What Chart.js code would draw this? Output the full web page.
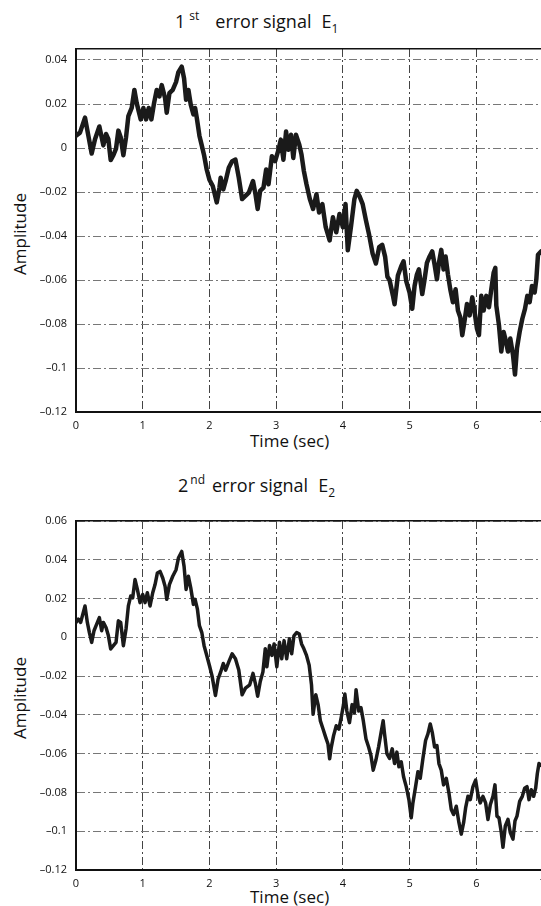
<!DOCTYPE html>
<html>
<head>
<meta charset="utf-8">
<script src="https://cdn.jsdelivr.net/npm/chart.js@4/dist/chart.umd.min.js"></script>
<style>
  html, body { margin: 0; padding: 0; background: #fff; overflow: hidden; }
  body { width: 541px; height: 906px; position: relative; font-family: "Open Sans", sans-serif; color: #111; }
  .txt { position: absolute; font-size: 17px; line-height: 20px; white-space: nowrap; }
  .ttl { font-size: 18px; }
  .sup { font-size: 12px; position: relative; top: -8px; }
  .sub { font-size: 12px; position: relative; top: 5px; }
  .ylab { position: absolute; font-size: 17px; line-height: 20px; white-space: nowrap; transform: translate(-50%, -50%) rotate(-90deg); }
  canvas { position: absolute; left: 0; }
</style>
</head>
<body>
<div class="txt ttl" style="left:175px; top:11px;">1<span class="sup" style="margin-left:4px">st</span><span style="margin-left:16px">error signal</span><span style="margin-left:10px">E</span><span class="sub">1</span></div>
<div class="ylab" style="left:19.5px; top:234px;">Amplitude</div>
<div class="txt" style="left:250px; top:431px;">Time (sec)</div>

<div class="txt ttl" style="left:178px; top:475px;">2<span class="sup" style="margin-left:2px">nd</span><span style="margin-left:7px">error signal</span><span style="margin-left:10px">E</span><span class="sub">2</span></div>
<div class="ylab" style="left:19.5px; top:698px;">Amplitude</div>
<div class="txt" style="left:250px; top:887px;">Time (sec)</div>

<canvas id="chart1" width="560" height="440" style="top:0px"></canvas>
<canvas id="chart2" width="560" height="430" style="top:470px"></canvas>

<script>
// 1st error signal E1
const time1 = [0, 0.06, 0.135, 0.185, 0.235, 0.285, 0.35, 0.41, 0.45, 0.485, 0.52, 0.56, 0.6, 0.635, 0.67, 0.71, 0.75, 0.785, 0.835, 0.875, 0.91, 0.97,
  1.01, 1.05, 1.09, 1.13, 1.17, 1.21, 1.25, 1.285, 1.335, 1.36, 1.4, 1.45, 1.5, 1.535, 1.585, 1.62, 1.65, 1.685, 1.72, 1.76, 1.785, 1.81, 1.85, 1.885, 1.92, 1.96,
  2.0, 2.05, 2.11, 2.15, 2.168, 2.208, 2.243, 2.29, 2.34, 2.39, 2.44, 2.49, 2.54, 2.59, 2.653, 2.69, 2.723, 2.76, 2.81, 2.85, 2.886, 2.936, 2.985,
  3.035, 3.07, 3.109, 3.149, 3.183, 3.223, 3.257, 3.297, 3.347, 3.38, 3.416, 3.455, 3.505, 3.554, 3.604, 3.644, 3.693, 3.743, 3.802, 3.851, 3.901, 3.95,
  4.0, 4.04, 4.074, 4.124, 4.173, 4.208, 4.248, 4.297, 4.347, 4.396, 4.446, 4.495, 4.545, 4.59, 4.634, 4.668, 4.7, 4.75, 4.775, 4.825, 4.875, 4.91, 4.95,
  5.0, 5.04, 5.075, 5.11, 5.14, 5.19, 5.225, 5.26, 5.3, 5.34, 5.375, 5.41, 5.44, 5.475, 5.51, 5.54, 5.575, 5.61, 5.65, 5.69, 5.725, 5.76, 5.79, 5.825, 5.86, 5.9, 5.94, 5.975,
  6.01, 6.04, 6.075, 6.11, 6.15, 6.19, 6.225, 6.26, 6.285, 6.3, 6.34, 6.375, 6.41, 6.44, 6.475, 6.51, 6.55, 6.58, 6.61, 6.65, 6.69, 6.73, 6.765, 6.8, 6.835, 6.875, 6.9, 6.925, 6.97];
const e1 = [0.0056, 0.007, 0.0138, 0.0056, -0.0025, 0.004, 0.0098, 0.0012, 0.0064, 0.004, -0.0055, -0.0033, -0.0003, 0.0079, 0.0049, -0.0033, 0.0049, 0.0145, 0.0182, 0.0264, 0.0204, 0.013,
  0.0182, 0.013, 0.0182, 0.013, 0.0204, 0.0264, 0.0234, 0.0286, 0.0227, 0.016, 0.0249, 0.0264, 0.03, 0.0345, 0.037, 0.0316, 0.0219, 0.0264, 0.0197, 0.0153, 0.0182, 0.0138, 0.0056, 0.0012, -0.0033, -0.0099,
  -0.0144, -0.0173, -0.0247, -0.0181, -0.0135, -0.0188, -0.015, -0.009, -0.006, -0.0053, -0.0135, -0.0232, -0.0218, -0.0203, -0.015, -0.021, -0.0277, -0.0195, -0.018, -0.0098, -0.0165, -0.0037, -0.006,
  -0.0008, 0.0038, -0.0053, 0.0075, -0.0008, 0.006, -0.0045, 0.006, 0.0015, -0.003, -0.0105, -0.0165, -0.0232, -0.0277, -0.021, -0.0293, -0.0255, -0.036, -0.042, -0.0315, -0.0383, -0.03,
  -0.036, -0.0255, -0.0465, -0.0352, -0.0232, -0.0195, -0.0218, -0.0255, -0.033, -0.0398, -0.048, -0.0525, -0.045, -0.044, -0.0495, -0.0585, -0.06, -0.067, -0.071, -0.058, -0.0537, -0.0515, -0.0605,
  -0.0657, -0.0731, -0.0627, -0.0575, -0.0552, -0.0664, -0.0597, -0.0522, -0.0493, -0.047, -0.053, -0.0597, -0.0522, -0.0463, -0.0552, -0.0493, -0.0575, -0.0642, -0.0701, -0.0642, -0.0739, -0.0769, -0.0851, -0.0784, -0.0709, -0.0761, -0.0679, -0.0746,
  -0.0821, -0.0851, -0.0672, -0.0739, -0.0672, -0.0724, -0.0642, -0.0567, -0.0545, -0.0716, -0.0806, -0.0925, -0.0836, -0.0873, -0.0925, -0.0866, -0.094, -0.103, -0.091, -0.0836, -0.0776, -0.0731, -0.0672, -0.0701, -0.0627, -0.0657, -0.0597, -0.0485, -0.047];

// 2nd error signal E2
const time2 = [0, 0.035, 0.07, 0.135, 0.17, 0.2, 0.235, 0.27, 0.31, 0.35, 0.385, 0.41, 0.45, 0.485, 0.52, 0.56, 0.6, 0.635, 0.67, 0.71, 0.75, 0.785, 0.82, 0.85, 0.885, 0.92, 0.96,
  1.0, 1.035, 1.07, 1.11, 1.15, 1.185, 1.22, 1.26, 1.3, 1.335, 1.36, 1.4, 1.45, 1.5, 1.535, 1.585, 1.62, 1.65, 1.685, 1.72, 1.76, 1.785, 1.82, 1.85, 1.885, 1.92, 1.96,
  2.0, 2.04, 2.09, 2.13, 2.17, 2.208, 2.243, 2.29, 2.34, 2.39, 2.44, 2.49, 2.54, 2.604, 2.653, 2.688, 2.723, 2.762, 2.802, 2.837, 2.861, 2.901, 2.936, 2.97,
  3.01, 3.05, 3.084, 3.119, 3.158, 3.198, 3.233, 3.267, 3.307, 3.347, 3.381, 3.416, 3.455, 3.495, 3.53, 3.554, 3.594, 3.629, 3.663, 3.703, 3.743, 3.777, 3.802, 3.827, 3.861, 3.901, 3.941, 3.975,
  4.01, 4.03, 4.06, 4.099, 4.139, 4.173, 4.198, 4.238, 4.272, 4.307, 4.347, 4.386, 4.421, 4.455, 4.495, 4.535, 4.569, 4.604, 4.625, 4.66, 4.7, 4.74, 4.775, 4.81, 4.84, 4.875, 4.91, 4.95, 4.99,
  5.025, 5.05, 5.09, 5.125, 5.16, 5.2, 5.24, 5.275, 5.31, 5.34, 5.375, 5.41, 5.44, 5.475, 5.51, 5.55, 5.59, 5.625, 5.66, 5.7, 5.74, 5.775, 5.81, 5.84, 5.875, 5.91, 5.95, 5.99,
  6.025, 6.06, 6.1, 6.14, 6.175, 6.21, 6.25, 6.28, 6.31, 6.34, 6.375, 6.4, 6.435, 6.475, 6.51, 6.55, 6.58, 6.61, 6.65, 6.69, 6.725, 6.76, 6.79, 6.825, 6.86, 6.89, 6.915, 6.94, 6.97];
const e2 = [0.0077, 0.0094, 0.0077, 0.0162, 0.0077, 0.0026, -0.0026, 0.0034, 0.0068, 0.0102, 0.0034, 0.0077, 0.0051, 0.0009, -0.006, -0.0043, -0.0026, 0.0085, 0.0077, -0.0043, 0.0043, 0.0162, 0.0213, 0.0204, 0.0298, 0.0247, 0.0179,
  0.0221, 0.0179, 0.023, 0.0162, 0.023, 0.0272, 0.0332, 0.034, 0.0306, 0.0264, 0.0196, 0.0272, 0.0315, 0.0349, 0.0409, 0.0443, 0.0366, 0.0247, 0.0315, 0.0255, 0.017, 0.0196, 0.0145, 0.006, 0.0026, -0.0043, -0.0094,
  -0.0145, -0.02, -0.03, -0.0215, -0.0177, -0.0135, -0.0169, -0.0127, -0.0085, -0.011, -0.0169, -0.0296, -0.0262, -0.0245, -0.0186, -0.0237, -0.0304, -0.0228, -0.0178, -0.0059, -0.0152, -0.0042, -0.0093, -0.0034,
  -0.0152, -0.0025, -0.011, -0.0017, -0.011, -0.0008, -0.0085, 0.0008, 0.0025, 0.0017, -0.0034, -0.0059, -0.0093, -0.0144, -0.0245, -0.0397, -0.0296, -0.0347, -0.0431, -0.0473, -0.0516, -0.055, -0.0626, -0.0566, -0.0507, -0.0456, -0.0473, -0.0414,
  -0.0347, -0.0292, -0.038, -0.044, -0.0347, -0.0389, -0.027, -0.038, -0.0363, -0.0431, -0.0524, -0.0566, -0.0609, -0.0685, -0.0634, -0.0566, -0.0499, -0.043, -0.0498, -0.06, -0.0625, -0.0575, -0.0651, -0.0592, -0.0668, -0.0642, -0.0719, -0.077, -0.0837,
  -0.0931, -0.0854, -0.077, -0.0693, -0.0727, -0.0625, -0.0532, -0.0498, -0.0447, -0.049, -0.0566, -0.0558, -0.0651, -0.0685, -0.0761, -0.0727, -0.0803, -0.0888, -0.0914, -0.0871, -0.0956, -0.1015, -0.0956, -0.088, -0.082, -0.0837, -0.077, -0.0736,
  -0.0812, -0.0854, -0.082, -0.0854, -0.0939, -0.0863, -0.082, -0.0761, -0.0922, -0.0931, -0.1007, -0.1083, -0.0973, -0.0939, -0.1007, -0.1041, -0.0947, -0.0922, -0.0846, -0.082, -0.0778, -0.077, -0.0837, -0.0786, -0.082, -0.0778, -0.0702, -0.0651, -0.066];

const xTicks = [0, 1, 2, 3, 4, 5, 6, 7];
const yTicks1 = [-0.12, -0.1, -0.08, -0.06, -0.04, -0.02, 0, 0.02, 0.04];
const yTicks2 = [-0.12, -0.1, -0.08, -0.06, -0.04, -0.02, 0, 0.02, 0.04, 0.06];

const dashDot = [8, 3, 2, 3];
const tickFont = { family: "Open Sans", size: 11 };

function fmt(v) {
    const s = String(+v.toFixed(2));
    return s.replace('-', '\u2013');
}

function makeChart(id, times, values, yMin, yMax, yTicks, padTop, xHeight, lineW) {
    const pts = times.map((t, i) => ({ x: t, y: values[i] }));
    return new Chart(document.getElementById(id).getContext('2d'), {
        type: 'line',
        data: {
            datasets: [{
                data: pts,
                borderColor: '#1a1a1a',
                borderWidth: lineW,
                borderJoinStyle: 'round',
                borderCapStyle: 'round',
                pointRadius: 0,
                tension: 0,
                fill: false
            }]
        },
        options: {
            responsive: false,
            animation: false,
            layout: { padding: { top: padTop, right: 17, left: 0, bottom: 0 } },
            plugins: { legend: { display: false }, title: { display: false }, tooltip: { enabled: false } },
            scales: {
                x: {
                    type: 'linear', position: 'bottom', min: 0, max: 7,
                    afterBuildTicks: s => { s.ticks = xTicks.map(v => ({ value: v })); },
                    afterFit: s => { s.height = xHeight; },
                    grid: { color: '#444', lineWidth: 1, drawTicks: false },
                    border: { display: true, color: '#111', width: 2, dash: dashDot },
                    ticks: { padding: 7, color: '#111', font: tickFont, maxRotation: 0, callback: v => fmt(v) }
                },
                xTop: {
                    type: 'linear', position: 'top', min: 0, max: 7,
                    grid: { display: false },
                    border: { display: true, color: '#111', width: 1.5 },
                    ticks: { display: false }
                },
                y: {
                    type: 'linear', min: yMin, max: yMax,
                    afterBuildTicks: s => { s.ticks = yTicks.map(v => ({ value: v })); },
                    afterFit: s => { s.width = 76; },
                    grid: { color: '#777', lineWidth: 1, drawTicks: false },
                    border: { display: true, color: '#111', width: 2, dash: dashDot },
                    ticks: { padding: 9, color: '#111', font: tickFont, callback: v => fmt(v) }
                }
            }
        }
    });
}

makeChart('chart1', time1, e1, -0.12, 0.045, yTicks1, 41, 28, 4.5);
makeChart('chart2', time2, e2, -0.12, 0.06, yTicks2, 43, 30, 3.5);
</script>
</body>
</html>
